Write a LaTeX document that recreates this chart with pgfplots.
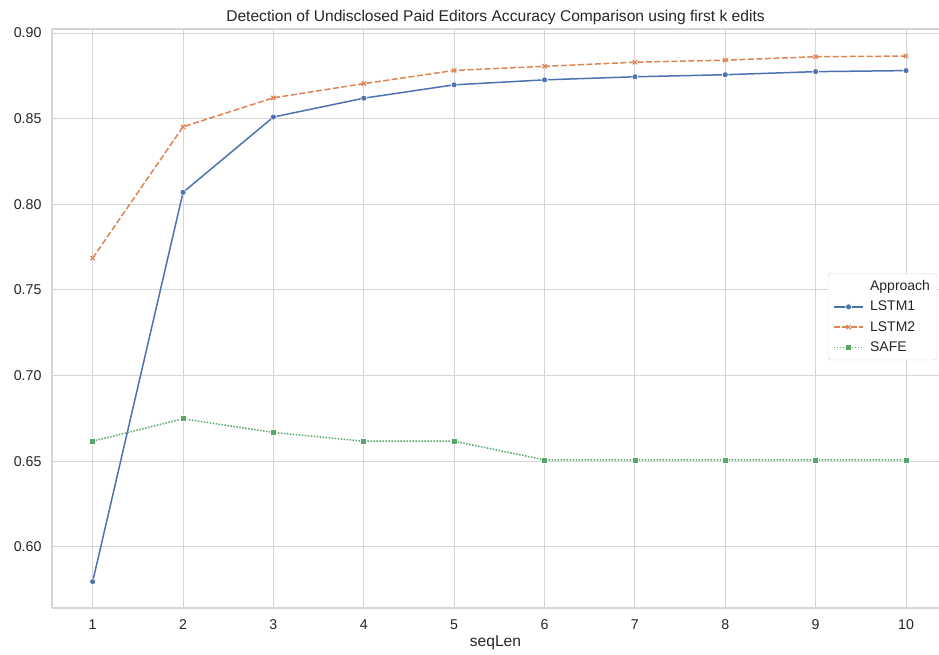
\documentclass[border=0pt]{standalone}
\usepackage{fontspec}
\setmainfont{Liberation Sans}
\usepackage{pgfplots}
\pgfplotsset{compat=1.18}

\definecolor{sbblue}{HTML}{4C72B0}
\definecolor{sborange}{HTML}{DD8452}
\definecolor{sbgreen}{HTML}{55A868}
\definecolor{gridgray}{HTML}{D5D5D5}
\definecolor{txt}{HTML}{262626}

\begin{document}
\begin{tikzpicture}
\begin{axis}[
  name=ax,
  scale only axis,
  width=887pt, height=579pt,
  xmin=0.55, xmax=10.365,
  ymin=0.5643, ymax=0.9024,
  xtick={1,...,10},
  ytick={0.60,0.65,...,0.90},
  grid=major,
  major grid style={gridgray, line width=1pt},
  major tick length=0pt,
  axis x line*=box,
  axis y line*=left,
  axis line style={gridgray, line width=1.2pt, -},
  tick label style={font=\fontsize{14.2}{16}\selectfont, text=txt},
  /pgf/number format/assume math mode=true,
  yticklabel style={/pgf/number format/fixed, /pgf/number format/fixed zerofill,
    /pgf/number format/precision=2, xshift=-7pt},
  xticklabel style={yshift=-8pt},
  title={Detection of Undisclosed Paid Editors Accuracy Comparison using first k edits},
  title style={font=\fontsize{15.6}{17}\selectfont, text=txt, yshift=-5pt},
  xlabel={seqLen},
  xlabel style={font=\fontsize{15.6}{17}\selectfont, text=txt, yshift=1pt},
  legend image code/.code={
    \draw[mark repeat=2, mark phase=2, #1]
      plot coordinates {(0cm,0cm) (0.52cm,0cm) (1.04cm,0cm)};
  },
  legend style={
    at={(0.998,0.503)}, anchor=east,
    draw=gridgray, rounded corners=3pt,
    font=\fontsize{14}{17}\selectfont, text=txt,
    row sep=5pt, inner xsep=5pt, inner ysep=5pt,
    /tikz/every odd column/.append style={column sep=4pt},
  },
  legend cell align=left,
]
\addlegendimage{empty legend}
\addlegendentry{Approach}

\addplot[sbblue, line width=1.5pt, mark=*, mark size=3pt,
  mark options={draw=white, line width=0.6pt, fill=sbblue}] coordinates {
  (1,0.5797) (2,0.8070) (3,0.8510) (4,0.8620) (5,0.8698)
  (6,0.8727) (7,0.8745) (8,0.8757) (9,0.8775) (10,0.8781)
};
\addlegendentry{LSTM1}

\addplot[sborange, line width=1.5pt, dash pattern=on 6pt off 2.5pt,
  mark=x, mark size=3pt,
  mark options={solid, sborange, line width=1.2pt}] coordinates {
  (1,0.7686) (2,0.8453) (3,0.8622) (4,0.8705) (5,0.8782)
  (6,0.8806) (7,0.8830) (8,0.8842) (9,0.8862) (10,0.8866)
};
\addlegendentry{LSTM2}

\addplot[sbgreen, line width=1.5pt, dash pattern=on 1.5pt off 1.5pt,
  mark=square*, mark size=3pt,
  mark options={solid, draw=white, line width=0.6pt, fill=sbgreen}] coordinates {
  (1,0.6617) (2,0.6748) (3,0.6668) (4,0.6617) (5,0.6617)
  (6,0.6508) (7,0.6508) (8,0.6508) (9,0.6508) (10,0.6508)
};
\addlegendentry{SAFE}
\end{axis}
\pgfresetboundingbox
\path[use as bounding box] ([shift={(-52pt,-46pt)}]ax.south west)
  rectangle ([shift={(0pt,29pt)}]ax.north east);
\end{tikzpicture}
\end{document}
